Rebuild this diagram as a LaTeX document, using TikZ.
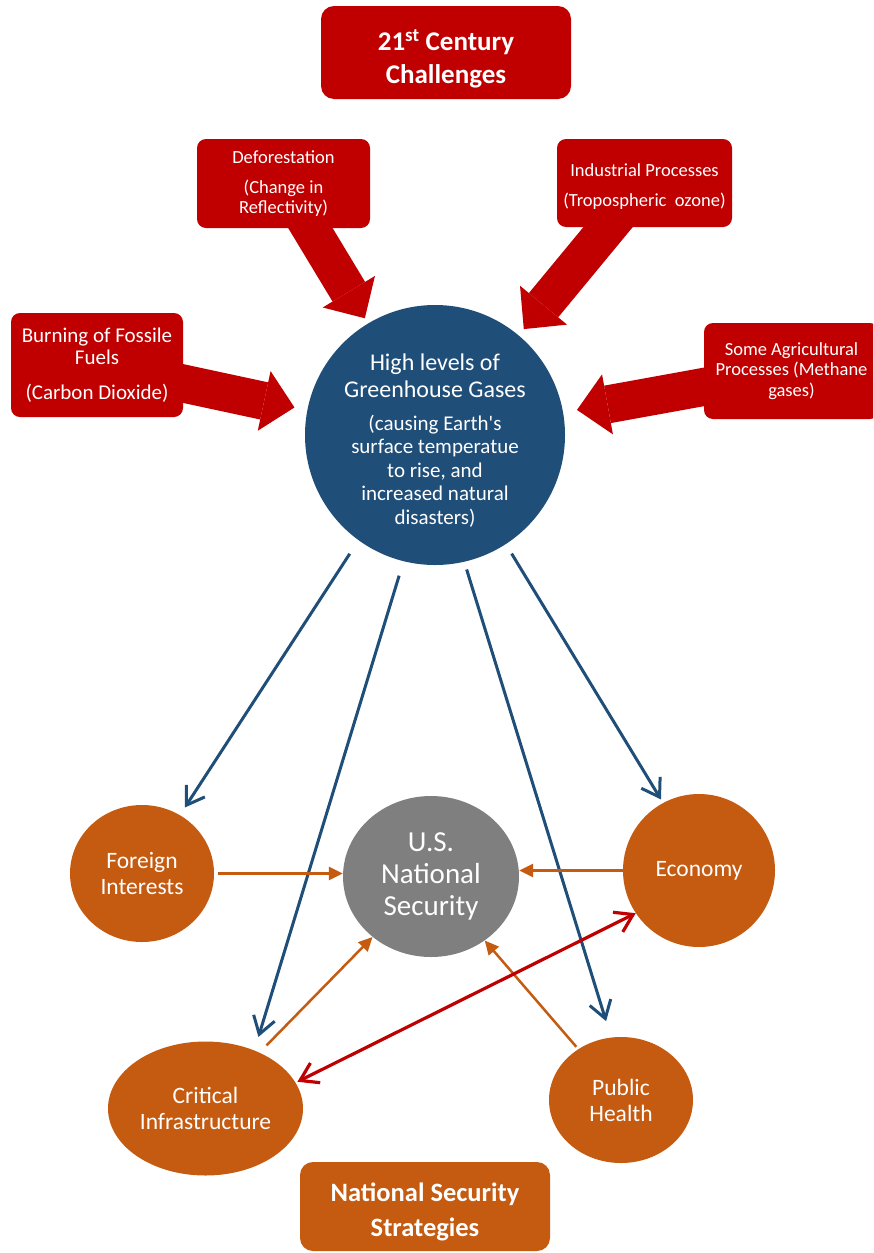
\documentclass[tikz,border=0pt]{standalone}
\usepackage{fontspec}
\setmainfont{Carlito}
\usetikzlibrary{arrows.meta,backgrounds,shapes.geometric}

\definecolor{chalred}{HTML}{C00000}
\definecolor{gasblue}{HTML}{1F4E79}
\definecolor{nsorange}{HTML}{C55A11}
\definecolor{nsgray}{HTML}{7F7F7F}
\newcommand{\subfont}{\fontsize{21}{23.5}\selectfont}

\begin{document}
\begin{tikzpicture}
[x=1pt,y=-1pt,
  titledecorate/.style={shape=rectangle,rounded corners=13pt,text=white,align=center,
    inner sep=0pt,font=\bfseries\fontsize{27}{33}\selectfont},%
  causedecorate/.style={shape=rectangle,rounded corners=9pt,fill=chalred,text=white,
    align=center,inner sep=0pt,font=\fontsize{18.5}{20}\selectfont},%
  areadecorate/.style={shape=ellipse,fill=nsorange,text=white,align=center,
    inner sep=0pt,font=\fontsize{23.5}{26}\selectfont},%
  causearrow/.style={-{Triangle[length=31pt,width=61pt,line width=0pt]},line width=38pt,chalred},%
  gasline/.style={-{Straight Barb[length=17pt,width=22pt]},line width=3pt,gasblue},%
  nsline/.style={-{Triangle[length=14pt,width=13pt]},line width=2.5pt,nsorange},%
  bothline/.style={{Straight Barb[length=17pt,width=22pt]}-{Straight Barb[length=17pt,width=22pt]},
    line width=3.2pt,chalred}]
\useasboundingbox (0,0) rectangle (873,1253);
\clip (0,0) rectangle (873,1253);
%% titles
\node (title) at (446,52.5) [titledecorate,fill=chalred,minimum width=250pt,minimum height=93pt]
  {\\21\textsuperscript{st} Century\\Challenges};
\node (nss) at (425,1206.5) [titledecorate,fill=nsorange,minimum width=250pt,minimum height=89pt,
  font=\bfseries\fontsize{26.5}{35}\selectfont] {\\[-5pt]National Security\\Strategies};
%% causes
\node (defo) at (283.5,183.5) [causedecorate,minimum width=173pt,minimum height=89pt]
  {Deforestation\\[10pt](Change in\\Reflectivity)};
\node (indus) at (644.5,183) [causedecorate,minimum width=175pt,minimum height=88pt]
  {\\Industrial Processes\\[10pt](Tropospheric\ \ ozone)};
\node (fossil) at (97,365) [causedecorate,minimum width=172pt,minimum height=104pt,
  font=\fontsize{21}{22}\selectfont] {Burning of Fossile\\Fuels\\[13pt](Carbon Dioxide)};
\node (agri) at (791.5,371) [causedecorate,minimum width=175pt,minimum height=96pt,
  font=\fontsize{18.5}{20.5}\selectfont] {Some Agricultural\\Processes (Methane\\gases)};
%% greenhouse gases
\node (ghg) at (435,435) [shape=circle,fill=gasblue,text=white,align=center,inner sep=0pt,
  minimum size=260pt,font=\fontsize{24}{27}\selectfont]
  {\\High levels of\\Greenhouse Gases\\[6pt]\subfont (causing Earth\textquotesingle s\\[-3.5pt]%
   \subfont surface temperatue\\[-3.5pt]\subfont to rise, and\\[-3.5pt]\subfont increased natural\\[-3.5pt]%
   \subfont disasters)};
%% security areas
\node (usns) at (431,876.5) [areadecorate,fill=nsgray,minimum width=176pt,minimum height=161pt,
  font=\fontsize{29}{32}\selectfont] {U.S.\\National\\Security};
\node (foreign) at (142,873.5) [areadecorate,minimum width=144pt,minimum height=137pt] {Foreign\\Interests};
\node (economy) at (699,870.5) [areadecorate,minimum width=152pt,minimum height=153pt] {Economy};
\node (critical) at (205.5,1108.5) [areadecorate,minimum width=195pt,minimum height=134pt] {Critical\\Infrastructure};
\node (health) at (621,1100) [areadecorate,minimum width=144pt,minimum height=126pt] {Public\\Health};
%% block arrows behind the boxes
\begin{pgfonlayer}{background}
\path
\foreach \startnode/\endangle/\endgap in {defo/121/6pt, indus/50/8pt, fossil/169/13pt, agri/10/14pt} {
  (\startnode.center) edge[causearrow,shorten >=\endgap] (ghg.\endangle)
};
\end{pgfonlayer}
%% effects of the gases
\path
\foreach \endnode/\startangle/\endangle/\startgap/\endgap in
  {foreign/234/57/16pt/9pt, critical/256/50/15pt/14pt, health/283/99/8pt/17pt, economy/303/118/11pt/4pt} {
  (ghg.\startangle) edge[gasline,shorten <=\startgap,shorten >=\endgap] (\endnode.\endangle)
};
%% links to national security
\path
  (foreign.east) edge[nsline,shorten <=4pt] (usns.west |- foreign.east)
  (economy.west) edge[nsline] (usns.east |- economy.west)
  (critical.46) edge[nsline,shorten <=10pt] (usns.226)
  (health.130) edge[nsline,shorten <=3pt] (usns.310)
  (critical.16) edge[bothline,shorten <=2pt] (economy.214);
\end{tikzpicture}
\end{document}
